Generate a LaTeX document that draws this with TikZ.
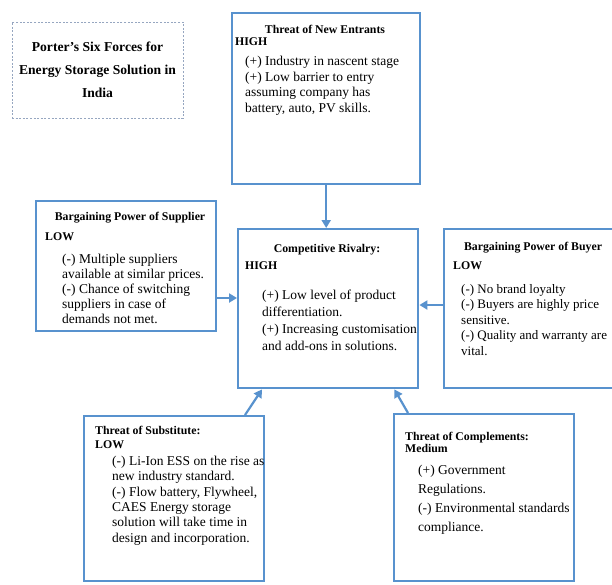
\documentclass[tikz,border=0pt]{standalone}
\usepackage{fontspec}
\setmainfont{Liberation Serif}
\usetikzlibrary{arrows.meta}

\definecolor{forceblue}{RGB}{88,146,206}
\definecolor{titleframe}{RGB}{150,166,192}

\tikzset{
  force/.style={draw=forceblue, line width=2.4pt, anchor=north west, inner sep=0pt, minimum width=180pt},
  forcename/.style={font=\fontsize{11.8}{12}\selectfont\bfseries, inner sep=0pt, anchor=mid},
  forcelevel/.style={font=\fontsize{11.8}{12}\selectfont\bfseries, inner sep=0pt, anchor=mid west},
  forcepoints/.style={font=\fontsize{13.5}{15.5}\selectfont, inner sep=0pt, align=left, anchor=north west},
  link/.style={draw=forceblue, line width=2.2pt, -{Triangle[length=8pt,width=9pt]}},
}

\begin{document}
\begin{tikzpicture}[x=1pt,y=-1pt]
	\useasboundingbox (0,0) rectangle (612,584);
	\clip (0,0) rectangle (612,584);
	\fill[white] (0,0) rectangle (612,584);

	% title
	\node[draw=titleframe, line width=0.9pt, dash pattern=on 2pt off 1.6pt, minimum width=171pt, minimum height=96pt,
		align=center, font=\fontsize{13.6}{23}\selectfont\bfseries] (title) at (97.5,70)
		{Porter’s Six Forces for\\Energy Storage Solution in\\India};

	% threat of new entrants
	\node[force, minimum width=188pt, minimum height=171pt] (ne) at (231,12) {};
	\node[forcename] (nename) at (325,31) {Threat of New Entrants};
	\node[forcelevel] (nelevel) at (235,43) {HIGH};
	\node[forcepoints] (nepoints) at (245,56) {(+) Industry in nascent stage\\(+) Low barrier to entry\\assuming company has\\battery, auto, PV skills.};

	% supplier
	\node[force, minimum height=130pt] (sup) at (35,200) {};
	\node[forcename] (supname) at (130,218) {Bargaining Power of Supplier};
	\node[forcelevel] (suplevel) at (45,238) {LOW};
	\node[forcepoints, font=\fontsize{13.5}{15}\selectfont] (suppoints) at (62,254) {(-) Multiple suppliers\\available at similar prices.\\(-) Chance of switching\\suppliers in case of\\demands not met.};

	% rivalry
	\node[force, minimum height=159pt] (riv) at (237,228) {};
	\node[forcename] (rivname) at (327,250) {Competitive Rivalry:};
	\node[forcelevel] (rivlevel) at (245,267) {HIGH};
	\node[forcepoints, font=\fontsize{13.5}{17}\selectfont] (rivpoints) at (262,290) {(+) Low level of product\\differentiation.\\(+) Increasing customisation\\and add-ons in solutions.};

	% buyer
	\node[force, minimum height=159pt] (buy) at (443,228) {};
	\node[forcename] (buyname) at (533,248) {Bargaining Power of Buyer};
	\node[forcelevel] (buylevel) at (453,267) {LOW};
	\node[forcepoints, font=\fontsize{13}{15.5}\selectfont] (buypoints) at (461,284) {(-) No brand loyalty\\(-) Buyers are highly price\\sensitive.\\(-) Quality and warranty are\\vital.};

	% substitute
	\node[force, minimum height=165pt] (sub) at (83,415) {};
	\node[forcename, anchor=mid west] (subname) at (95,432) {Threat of Substitute:};
	\node[forcelevel] (sublevel) at (95,446) {LOW};
	\node[forcepoints, font=\fontsize{13.5}{15.3}\selectfont] (subpoints) at (112,456) {(-) Li-Ion ESS on the rise as\\new industry standard.\\(-) Flow battery, Flywheel,\\CAES Energy storage\\solution will take time in\\design and incorporation.};

	% complements
	\node[force, minimum height=167pt] (comp) at (393,413) {};
	\node[forcename, anchor=mid west] (compname) at (405,438) {Threat of Complements:};
	\node[forcelevel] (complevel) at (405,450) {Medium};
	\node[forcepoints, font=\fontsize{13.5}{19}\selectfont] (comppoints) at (418,465) {(+) Government\\Regulations.\\(-) Environmental standards\\compliance.};

	% forces on rivalry
	\draw[link] (ne.south) -- (ne.south |- riv.north);
	\draw[link] ([yshift=-98pt]sup.north east) -- ([yshift=-70pt]riv.north west);
	\draw[link] ([yshift=-77pt]buy.north west) -- ([yshift=-77pt]riv.north east);
	\draw[link] ([xshift=162pt]sub.north west) -- ([xshift=25pt]riv.south west);
	\draw[link] ([xshift=15pt]comp.north west) -- ([xshift=-25pt]riv.south east);
\end{tikzpicture}
\end{document}
